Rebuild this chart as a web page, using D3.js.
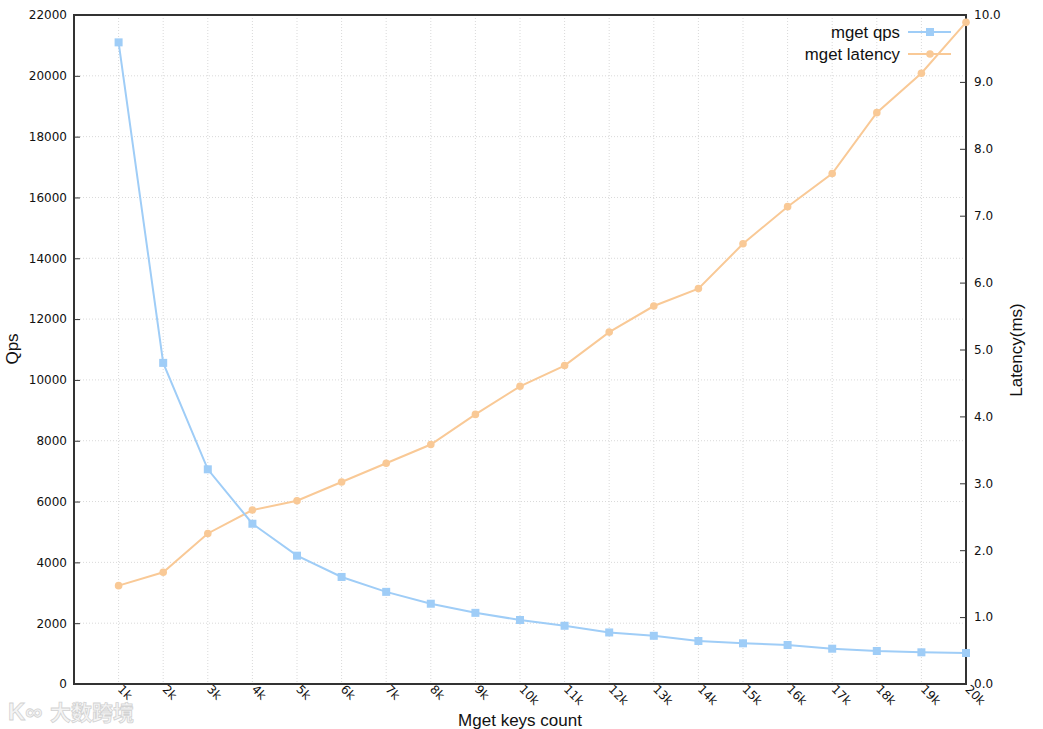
<!DOCTYPE html>
<html>
<head>
<meta charset="utf-8">
<script src="https://cdn.jsdelivr.net/npm/d3@7"></script>
<style>
  html, body { margin: 0; padding: 0; background: #fff; }
  svg { display: block; }
</style>
</head>
<body>
<svg id="chart" width="1043" height="729"></svg>
<script>
// ---- data ----
const categories = [1,2,3,4,5,6,7,8,9,10,11,12,13,14,15,16,17,18,19,20];
const categoryLabels = ["1k","2k","3k","4k","5k","6k","7k","8k","9k","10k","11k","12k","13k","14k","15k","16k","17k","18k","19k","20k"];
const qps = [21100, 10560, 7060, 5270, 4220, 3520, 3030, 2640, 2340, 2105, 1915, 1695, 1585, 1414, 1338, 1283, 1161, 1085, 1042, 1019];
const latency = [1.47, 1.67, 2.25, 2.60, 2.74, 3.02, 3.30, 3.58, 4.03, 4.45, 4.76, 5.26, 5.65, 5.91, 6.58, 7.135, 7.63, 8.54, 9.13, 9.89];
const leftTicks = [0,2000,4000,6000,8000,10000,12000,14000,16000,18000,20000,22000];
const rightTicks = [0,1,2,3,4,5,6,7,8,9,10];
const seriesNames = ["mget qps", "mget latency"];
const colors = ["#9fcdf7", "#f9c996"];

// ---- layout ----
const svg = d3.select("#chart");
const L = 74, R = 966, T = 15, B = 684;

const x = d3.scaleLinear().domain([0, 20]).range([L, R]);
const yL = d3.scaleLinear().domain([0, 22000]).range([B, T]);
const yR = d3.scaleLinear().domain([0, 10]).range([B, T]);

// grid
const grid = svg.append("g");
grid.selectAll("line.v").data(categories.filter(d => d < 20)).enter().append("line")
  .attr("x1", d => x(d)).attr("x2", d => x(d)).attr("y1", T).attr("y2", B)
  .attr("stroke", "#d9d9d9").attr("stroke-width", 1).attr("stroke-dasharray", "1,2");
grid.selectAll("line.h").data(leftTicks.filter(d => d > 0 && d < 22000)).enter().append("line")
  .attr("x1", L).attr("x2", R).attr("y1", d => yL(d)).attr("y2", d => yL(d))
  .attr("stroke", "#d9d9d9").attr("stroke-width", 1).attr("stroke-dasharray", "1,2");

// axes (ticks inward)
const fontTick = "DejaVu Sans, sans-serif";
const axL = svg.append("g").attr("transform", `translate(${L},0)`)
  .call(d3.axisRight(yL).tickValues(leftTicks).tickSize(6).tickFormat(d3.format("d")));
axL.select(".domain").remove();
axL.selectAll("line").attr("stroke", "#333");
axL.selectAll("text").attr("x", -7).attr("text-anchor", "end")
  .attr("font-family", fontTick).attr("font-size", 12).attr("fill", "#111");

const axR = svg.append("g").attr("transform", `translate(${R},0)`)
  .call(d3.axisLeft(yR).tickValues(rightTicks).tickSize(6).tickFormat(d3.format(".1f")));
axR.select(".domain").remove();
axR.selectAll("line").attr("stroke", "#333");
axR.selectAll("text").attr("x", 8).attr("text-anchor", "start")
  .attr("font-family", fontTick).attr("font-size", 12).attr("fill", "#111");

const axB = svg.append("g").attr("transform", `translate(0,${B})`)
  .call(d3.axisBottom(x).tickValues(categories).tickSize(0).tickFormat((d, i) => categoryLabels[i]));
axB.select(".domain").remove();
axB.selectAll("text")
  .attr("font-family", fontTick).attr("font-size", 12).attr("fill", "#111")
  .attr("text-anchor", "start").attr("dy", 0).attr("y", 0)
  .attr("transform", "translate(-2,6) rotate(45)");

// frame
svg.append("rect").attr("x", L).attr("y", T).attr("width", R - L).attr("height", B - T)
  .attr("fill", "none").attr("stroke", "#333").attr("stroke-width", 2);

// lines
const lineQ = d3.line().x((d, i) => x(categories[i])).y(d => yL(d));
const lineLat = d3.line().x((d, i) => x(categories[i])).y(d => yR(d));

svg.append("path").datum(latency).attr("d", lineLat)
  .attr("fill", "none").attr("stroke", colors[1]).attr("stroke-width", 2);
svg.selectAll("circle.lat").data(latency).enter().append("circle")
  .attr("cx", (d, i) => x(categories[i])).attr("cy", d => yR(d)).attr("r", 3.8)
  .attr("fill", colors[1]);

svg.append("path").datum(qps).attr("d", lineQ)
  .attr("fill", "none").attr("stroke", colors[0]).attr("stroke-width", 2);
svg.selectAll("rect.q").data(qps).enter().append("rect")
  .attr("x", (d, i) => x(categories[i]) - 4).attr("y", d => yL(d) - 4)
  .attr("width", 8).attr("height", 8).attr("fill", colors[0]);

// legend
const fontTitle = "Liberation Sans, Arial, sans-serif";
const leg = svg.append("g");
seriesNames.forEach((name, i) => {
  const yy = 32 + i * 22;
  leg.append("text").attr("x", 900).attr("y", yy + 6).attr("text-anchor", "end")
    .attr("font-family", fontTitle).attr("font-size", 16.8).attr("fill", "#111").text(name);
  leg.append("line").attr("x1", 908).attr("x2", 951).attr("y1", yy).attr("y2", yy)
    .attr("stroke", colors[i]).attr("stroke-width", 2);
  if (i === 0) {
    leg.append("rect").attr("x", 930 - 4).attr("y", yy - 4).attr("width", 8).attr("height", 8).attr("fill", colors[i]);
  } else {
    leg.append("circle").attr("cx", 930).attr("cy", yy).attr("r", 3.8).attr("fill", colors[i]);
  }
});

// axis titles
svg.append("text").attr("x", 520).attr("y", 726).attr("text-anchor", "middle")
  .attr("font-family", fontTitle).attr("font-size", 17).attr("fill", "#111").text("Mget keys count");
svg.append("text").attr("transform", "translate(18,349) rotate(-90)").attr("text-anchor", "middle")
  .attr("font-family", fontTitle).attr("font-size", 17).attr("fill", "#111").text("Qps");
svg.append("text").attr("transform", "translate(1022,350) rotate(-90)").attr("text-anchor", "middle")
  .attr("font-family", fontTitle).attr("font-size", 17).attr("fill", "#111").text("Latency(ms)");

// watermark
const wm = svg.append("g").attr("opacity", 0.6);
wm.append("text").attr("x", 8).attr("y", 720)
  .attr("font-family", fontTitle).attr("font-size", 24).attr("font-weight", "bold")
  .attr("fill", "#eeeeee").attr("stroke", "#b5b5b5").attr("stroke-width", 0.8).text("K∞");
wm.append("text").attr("x", 50).attr("y", 720)
  .attr("font-family", "Noto Sans CJK SC, sans-serif").attr("font-size", 21).attr("font-weight", "bold")
  .attr("fill", "#eeeeee").attr("stroke", "#b5b5b5").attr("stroke-width", 0.8).text("大数跨境");
</script>
</body>
</html>
